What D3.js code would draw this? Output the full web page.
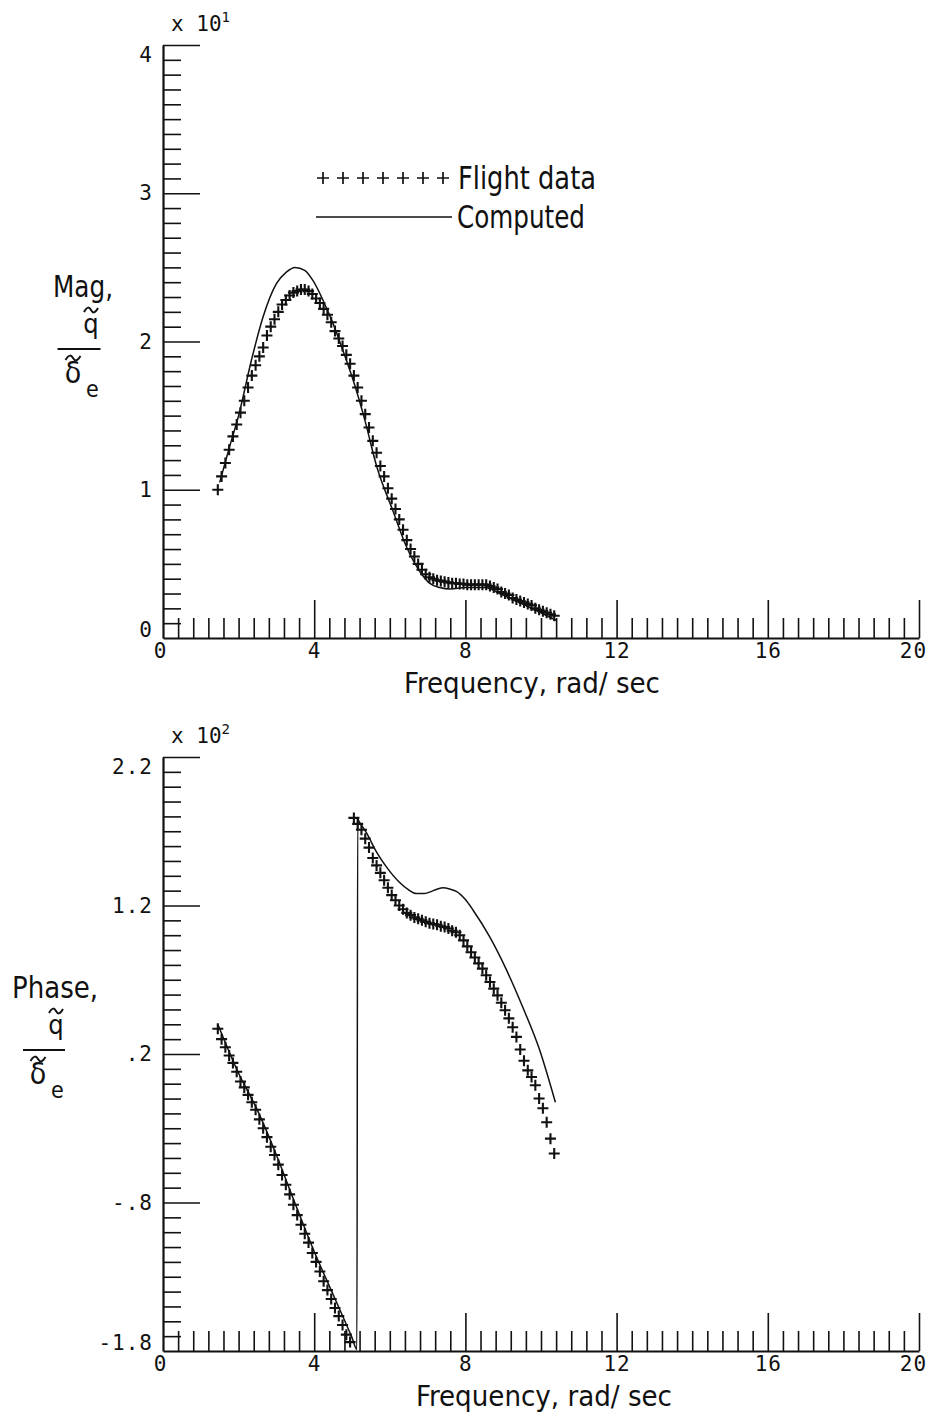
<!DOCTYPE html>
<html>
<head>
<meta charset="utf-8">
<script src="https://cdn.jsdelivr.net/npm/d3@7"></script>
<style>
  html, body { margin: 0; padding: 0; background: #fff; }
  svg { display: block; }
  .tick text { font-family: "DejaVu Sans Mono", "Liberation Mono", monospace; font-size: 21px; fill: #111; letter-spacing: 1px; }
  .cond { font-family: "Liberation Sans Narrow", "DejaVu Sans Condensed", "Roboto Condensed", "Arial Narrow", sans-serif; font-stretch: condensed; fill: #111; }
</style>
</head>
<body>
<svg id="chart" width="939" height="1419"></svg>
<script>
// ---------------- DATA ----------------
const xTickLabels = ["0", "4", "8", "12", "16", "20"];
const xMajor = [0, 4, 8, 12, 16, 20];
const magTickLabels = ["0", "1", "2", "3", "4"];
const magMajor = [0, 1, 2, 3, 4];
const phaseTickLabels = ["-1.8", "-.8", ".2", "1.2", "2.2"];
const phaseMajor = [-1.8, -0.8, 0.2, 1.2, 2.2];

// Flight data frequencies (rad/sec)
const flightFreq = [
  1.45, 1.55, 1.65, 1.75, 1.85, 1.95, 2.05, 2.15, 2.25, 2.35,
  2.45, 2.55, 2.65, 2.75, 2.85, 2.95, 3.05, 3.15, 3.25, 3.35,
  3.45, 3.55, 3.65, 3.75, 3.85, 3.95, 4.05, 4.15, 4.25, 4.35,
  4.45, 4.55, 4.65, 4.75, 4.85, 4.95, 5.05, 5.15, 5.25, 5.35,
  5.45, 5.55, 5.65, 5.75, 5.85, 5.95, 6.05, 6.15, 6.25, 6.35,
  6.45, 6.55, 6.65, 6.75, 6.85, 6.95, 7.05, 7.15, 7.25, 7.35,
  7.45, 7.55, 7.65, 7.75, 7.85, 7.95, 8.05, 8.15, 8.25, 8.35,
  8.45, 8.55, 8.65, 8.75, 8.85, 8.95, 9.05, 9.15, 9.25, 9.35,
  9.45, 9.55, 9.65, 9.75, 9.85, 9.95, 10.05, 10.15, 10.25, 10.35
];
// Flight magnitude (x 10^1)
const flightMag = [
  1.00, 1.09, 1.18, 1.27, 1.36, 1.44, 1.52, 1.60, 1.69, 1.77,
  1.84, 1.90, 1.96, 2.04, 2.10, 2.15, 2.20, 2.25, 2.28, 2.31,
  2.33, 2.34, 2.35, 2.35, 2.34, 2.32, 2.29, 2.26, 2.22, 2.18,
  2.13, 2.07, 2.02, 1.97, 1.91, 1.85, 1.77, 1.69, 1.60, 1.51,
  1.42, 1.33, 1.25, 1.16, 1.09, 1.01, 0.94, 0.87, 0.80, 0.73,
  0.66, 0.60, 0.55, 0.50, 0.46, 0.43, 0.41, 0.40, 0.39, 0.385,
  0.38, 0.375, 0.37, 0.37, 0.365, 0.365, 0.36, 0.36, 0.36, 0.36,
  0.36, 0.36, 0.35, 0.34, 0.33, 0.31, 0.30, 0.29, 0.27, 0.26,
  0.25, 0.24, 0.23, 0.22, 0.20, 0.19, 0.18, 0.17, 0.16, 0.15
];
// Flight phase (x 10^2 deg)
const flightPhase = [
  0.37, 0.30, 0.245, 0.19, 0.14, 0.08, 0.015, -0.025, -0.075, -0.125,
  -0.175, -0.24, -0.30, -0.36, -0.425, -0.48, -0.545, -0.615, -0.68, -0.745,
  -0.815, -0.885, -0.95, -1.01, -1.07, -1.14, -1.20, -1.265, -1.33, -1.39,
  -1.45, -1.51, -1.565, -1.625, -1.69, -1.74, 1.79, 1.75, 1.71, 1.65,
  1.59, 1.52, 1.47, 1.42, 1.37, 1.32, 1.27, 1.235, 1.20, 1.175,
  1.15, 1.135, 1.12, 1.11, 1.10, 1.09, 1.08, 1.075, 1.07, 1.06,
  1.055, 1.045, 1.03, 1.02, 1.00, 0.965, 0.925, 0.885, 0.85, 0.81,
  0.775, 0.73, 0.685, 0.64, 0.595, 0.545, 0.495, 0.44, 0.38, 0.315,
  0.23, 0.155, 0.09, 0.045, -0.01, -0.10, -0.165, -0.26, -0.37, -0.47
];
// Computed magnitude
const compMagFreq = [1.5, 1.75, 2.0, 2.35, 2.64, 3.0, 3.27, 3.49, 3.75, 3.97, 4.23, 4.5, 4.76, 5.03, 5.34, 5.65, 6.08, 6.45, 6.79, 7.05, 7.32, 7.6, 8.0, 8.5, 9.0, 9.5, 10.0, 10.4];
const compMag = [1.05, 1.28, 1.50, 1.885, 2.16, 2.39, 2.47, 2.50, 2.48, 2.41, 2.28, 2.12, 1.94, 1.74, 1.47, 1.16, 0.86, 0.61, 0.45, 0.37, 0.34, 0.33, 0.34, 0.34, 0.29, 0.23, 0.17, 0.12];
// Computed phase
const compPhaseFreq = [1.45, 2.0, 2.5, 3.0, 3.5, 4.0, 4.5, 5.0, 5.13, 5.15, 5.2, 5.38, 5.65, 5.91, 6.26, 6.5, 6.7, 6.9, 7.05, 7.25, 7.41, 7.6, 7.76, 8.0, 8.2, 8.64, 9.08, 9.51, 9.96, 10.38];
const compPhase = [0.40, 0.07, -0.18, -0.48, -0.81, -1.13, -1.42, -1.71, -1.79, 1.78, 1.76, 1.69, 1.56, 1.46, 1.355, 1.305, 1.28, 1.28, 1.29, 1.31, 1.32, 1.31, 1.295, 1.24, 1.17, 0.99, 0.77, 0.52, 0.23, -0.125];

// ---------------- DRAWING ----------------
const svg = d3.select("#chart");
const INK = "#111";

function range(a, b, step) { const out = []; for (let v = a; v <= b + 1e-9; v += step) out.push(+v.toFixed(4)); return out; }

function panel(cfg) {
  const x = d3.scaleLinear().domain([0, 20]).range([163, 919]);
  const y = d3.scaleLinear().domain(cfg.yDomain).range(cfg.yRange);
  const g = svg.append("g");

  const yMinor = range(cfg.yDomain[0], cfg.yDomain[1], 0.1).filter(v => !cfg.yMajor.some(m => Math.abs(m - v) < 1e-6));
  const xMinor = range(0.4, 20, 0.4).filter(v => !xMajor.some(m => Math.abs(m - v) < 1e-6));
  const base = cfg.yRange[0];

  const ya = g.append("g").attr("transform", "translate(163,0)")
    .call(d3.axisRight(y).tickValues(yMinor).tickSize(18).tickSizeOuter(0).tickFormat(""));
  ya.selectAll("path,line").attr("stroke", INK).attr("stroke-width", 1.6);
  ya.select(".domain").attr("stroke-width", 2.2);
  const yM = g.append("g").attr("transform", "translate(163,0)")
    .call(d3.axisRight(y).tickValues(cfg.yMajor.slice(1)).tickSize(37).tickFormat(""));
  yM.select(".domain").remove();
  yM.selectAll("line").attr("stroke", INK).attr("stroke-width", 1.6);
  const yl = g.append("g").attr("transform", "translate(163,0)")
    .call(d3.axisLeft(y).tickValues(cfg.yMajor).tickSize(0).tickPadding(10).tickFormat((d, i) => cfg.yLabels[i]));
  yl.select(".domain").remove();
  yl.selectAll("text").attr("dy", (d, i) => i === 0 ? "-0.05em" : (i === cfg.yMajor.length - 1 ? "0.8em" : "0.32em"));

  const xa = g.append("g").attr("transform", `translate(0,${base})`)
    .call(d3.axisTop(x).tickValues(xMinor).tickSize(20).tickSizeOuter(0).tickFormat(""));
  xa.selectAll("path,line").attr("stroke", INK).attr("stroke-width", 1.6);
  xa.select(".domain").attr("stroke-width", 2.2);
  const xM = g.append("g").attr("transform", `translate(0,${base})`)
    .call(d3.axisTop(x).tickValues(xMajor.slice(1)).tickSize(38).tickFormat(""));
  xM.select(".domain").remove();
  xM.selectAll("line").attr("stroke", INK).attr("stroke-width", 1.6);
  const xl = g.append("g").attr("transform", `translate(0,${base})`)
    .call(d3.axisBottom(x).tickValues(xMajor).tickSize(0).tickPadding(5).tickFormat((d, i) => xTickLabels[i]));
  xl.select(".domain").remove();
  xl.selectAll("text").attr("dx", (d, i) => i === 0 ? "-3" : (i === xMajor.length - 1 ? "-6" : "0"));

  const sx = g.append("text").attr("x", 171).attr("y", cfg.yRange[1] - 14)
    .style("font-family", "DejaVu Sans Mono, monospace").style("font-size", "21px").attr("fill", INK);
  sx.append("tspan").text("x 10");
  sx.append("tspan").attr("dy", -9).style("font-size", "14px").text(cfg.exp);

  g.append("text").attr("class", "cond").attr("x", cfg.titleX).attr("y", base + 55)
    .style("font-size", "28px").attr("textLength", 256).attr("lengthAdjust", "spacingAndGlyphs")
    .text("Frequency, rad/ sec");

  const line = d3.line().x(d => x(d[0])).y(d => y(d[1])).curve(d3.curveMonotoneX);
  g.append("path").datum(cfg.compF.map((f, i) => [f, cfg.compV[i]]))
    .attr("d", line).attr("fill", "none").attr("stroke", INK).attr("stroke-width", 1.5);

  const s = 5.5;
  g.append("g").selectAll("path").data(flightFreq.map((f, i) => [f, cfg.flightV[i]]))
    .join("path")
    .attr("transform", d => `translate(${x(d[0])},${y(d[1])})`)
    .attr("d", `M${-s},0H${s}M0,${-s}V${s}`)
    .attr("stroke", INK).attr("stroke-width", 2.1).attr("fill", "none");

  return { x, y, g };
}

function tilde(g, cx, cy, w) {
  const p = d3.path();
  p.moveTo(cx - w / 2, cy + 2);
  p.bezierCurveTo(cx - w / 4, cy - 4, cx - w / 8, cy - 3, cx, cy);
  p.bezierCurveTo(cx + w / 8, cy + 3, cx + w / 4, cy + 4, cx + w / 2, cy - 2);
  g.append("path").attr("d", p.toString()).attr("fill", "none").attr("stroke", INK).attr("stroke-width", 2);
}

function ylabel(g, word, wx, wlen, cx, barY, barW) {
  g.append("text").attr("class", "cond").attr("x", wx).attr("y", barY - 52).style("font-size", "30px")
    .attr("textLength", wlen).attr("lengthAdjust", "spacingAndGlyphs").text(word);
  g.append("text").attr("class", "cond").attr("x", cx + 12).attr("y", barY - 16)
    .attr("text-anchor", "middle").style("font-size", "27px").text("q");
  tilde(g, cx + 12, barY - 39, 14);
  g.append("line").attr("x1", cx - barW / 2).attr("x2", cx + barW / 2).attr("y1", barY).attr("y2", barY)
    .attr("stroke", INK).attr("stroke-width", 2.2);
  g.append("text").attr("class", "cond").attr("x", cx - 6).attr("y", barY + 34)
    .attr("text-anchor", "middle").style("font-size", "30px").text("δ");
  tilde(g, cx - 6, barY + 9, 15);
  g.append("text").attr("class", "cond").attr("x", cx + 7).attr("y", barY + 48)
    .style("font-size", "23px").text("e");
}

const magPanel = panel({
  yDomain: [0, 4], yRange: [638, 45], yMajor: magMajor, yLabels: magTickLabels, exp: "1",
  flightV: flightMag, compF: compMagFreq, compV: compMag, titleX: 404
});
const phasePanel = panel({
  yDomain: [-1.8, 2.2], yRange: [1351, 757], yMajor: phaseMajor, yLabels: phaseTickLabels, exp: "2",
  flightV: flightPhase, compF: compPhaseFreq, compV: compPhase, titleX: 416
});

ylabel(svg, "Mag,", 53, 60, 79, 349, 43);
ylabel(svg, "Phase,", 12, 86, 44, 1050, 42);

const lg = svg.append("g");
const legendPlus = [323, 343, 363, 383, 403, 423, 443];
lg.selectAll("path.lp").data(legendPlus).join("path").attr("class", "lp")
  .attr("transform", d => `translate(${d},178)`)
  .attr("d", "M-6,0H6M0,-6V6").attr("stroke", INK).attr("stroke-width", 1.7);
lg.append("text").attr("class", "cond").attr("x", 458).attr("y", 189).style("font-size", "32px")
  .attr("textLength", 138).attr("lengthAdjust", "spacingAndGlyphs").text("Flight data");
lg.append("line").attr("x1", 316).attr("x2", 452).attr("y1", 217).attr("y2", 217).attr("stroke", INK).attr("stroke-width", 1.5);
lg.append("text").attr("class", "cond").attr("x", 457).attr("y", 228).style("font-size", "32px")
  .attr("textLength", 128).attr("lengthAdjust", "spacingAndGlyphs").text("Computed");
</script>
</body>
</html>
